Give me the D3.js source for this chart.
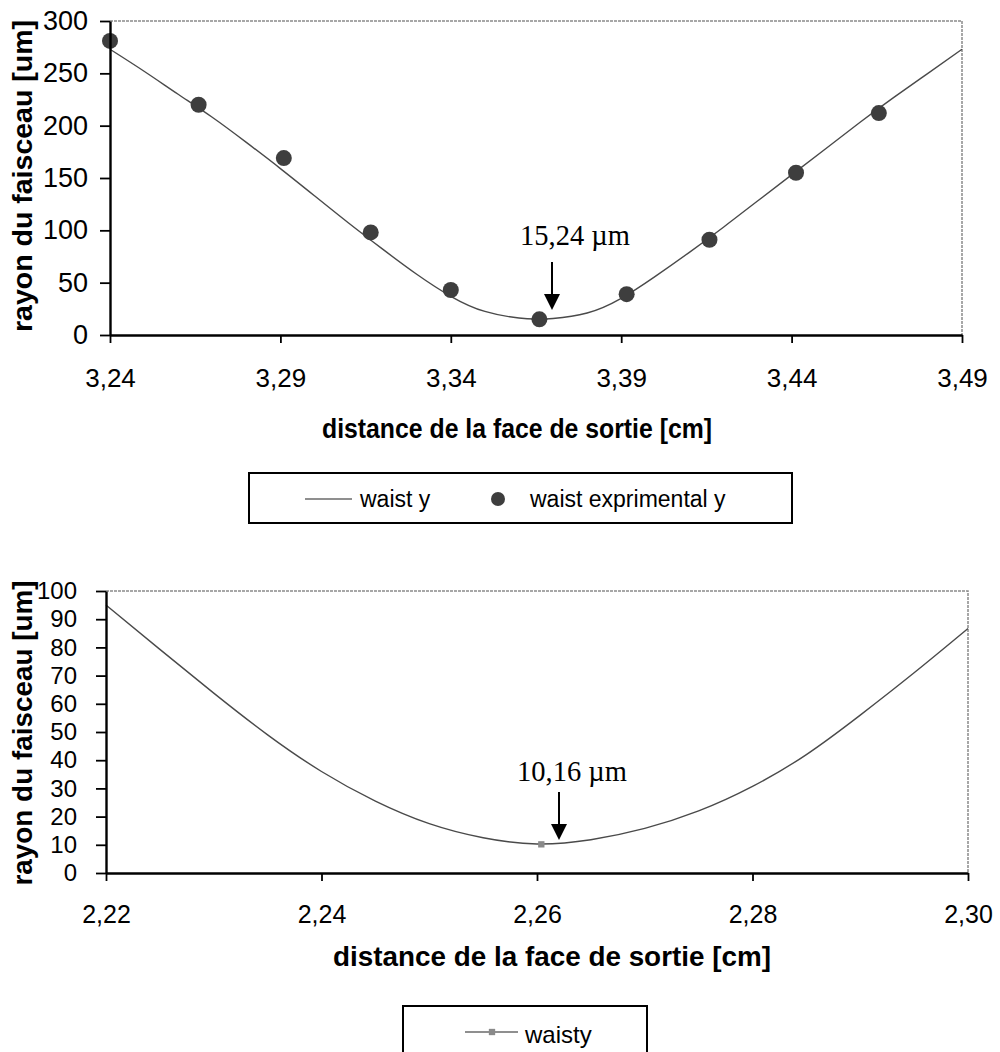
<!DOCTYPE html>
<html>
<head>
<meta charset="utf-8">
<script src="https://cdn.jsdelivr.net/npm/d3@7"></script>
<style>
body { margin: 0; background: #fff; }
</style>
</head>
<body>
<svg id="chart" width="1000" height="1052"></svg>
<script>
// top panel: fitted waist curve + measured points
var topCurveX = [3.24, 3.25, 3.26, 3.27, 3.28, 3.29, 3.30, 3.31, 3.32, 3.33, 3.34, 3.35, 3.36, 3.365,
    3.37, 3.38, 3.39, 3.40, 3.41, 3.42, 3.43, 3.44, 3.45, 3.46, 3.47, 3.48, 3.49];
var topCurveY = [273, 252, 230, 208, 184, 159, 133, 107, 82, 58, 37, 22.5, 16.2, 15.24,
    15.8, 21, 35, 56, 79, 103, 128, 153, 178, 203, 227, 250, 273];
var topPointsX = [3.240, 3.266, 3.291, 3.3165, 3.340, 3.366, 3.3916, 3.4159, 3.4413, 3.4656];
var topPointsY = [281, 220, 169, 98, 43, 15, 39, 91, 155, 212];
var topXTicks = [3.24, 3.29, 3.34, 3.39, 3.44, 3.49];
var topYTicks = [0, 50, 100, 150, 200, 250, 300];

// bottom panel: waist curve
var bottomCurveX = [2.220, 2.225, 2.230, 2.235, 2.240, 2.245, 2.250, 2.255, 2.260, 2.265,
    2.270, 2.275, 2.280, 2.285, 2.290, 2.295, 2.300];
var bottomCurveY = [95, 79.3, 63.8, 49, 36, 25.5, 17.5, 12.5, 10.3, 11.8,
    15.8, 22, 30.7, 42, 56, 71, 86.7];
var bottomPointX = [2.2604];
var bottomPointY = [10.16];
var bottomXTicks = [2.22, 2.24, 2.26, 2.28, 2.30];
var bottomYTicks = [0, 10, 20, 30, 40, 50, 60, 70, 80, 90, 100];

var xTitle = 'distance de la face de sortie [cm]';
var yTitle = 'rayon du faisceau [um]';

var SANS = '"Liberation Sans", Arial, sans-serif';
var SERIF = '"Liberation Serif", "Times New Roman", serif';

var fr = d3.formatLocale({decimal: ',', thousands: ' ', grouping: [3], currency: ['', '']});
var fmt2 = fr.format('.2f');

var svg = d3.select('#chart');
svg.append('rect').attr('width', 1000).attr('height', 1052).attr('fill', '#fff');

function drawPanel(o) {
    var x = d3.scaleLinear().domain(o.xDomain).range([o.left, o.right]);
    var y = d3.scaleLinear().domain(o.yDomain).range([o.bottom, o.top]);
    var g = svg.append('g');

    // plot area border, only top and right show as grey dotted line
    g.append('path')
        .attr('d', 'M' + o.left + ',' + o.top + 'H' + o.right + 'V' + o.bottom)
        .attr('fill', 'none').attr('stroke', '#8a8a8a').attr('stroke-width', 1.5)
        .attr('stroke-dasharray', '3,1');

    // curve
    var pts = o.curveX.map(function (v, i) { return [v, o.curveY[i]]; });
    g.append('path')
        .datum(pts)
        .attr('d', d3.line().x(function (d) { return x(d[0]); }).y(function (d) { return y(d[1]); })
            .curve(d3.curveNatural))
        .attr('fill', 'none').attr('stroke', '#4a4a4a').attr('stroke-width', 1.4);

    // markers
    var mp = o.pointsX.map(function (v, i) { return [v, o.pointsY[i]]; });
    if (o.bigDots) {
        g.selectAll('circle.pt').data(mp).enter().append('circle')
            .attr('class', 'pt')
            .attr('cx', function (d) { return x(d[0]); })
            .attr('cy', function (d) { return y(d[1]); })
            .attr('r', 8).attr('fill', '#3e3e3e');
    } else {
        g.selectAll('path.pt').data(mp).enter().append('path')
            .attr('class', 'pt')
            .attr('transform', function (d) { return 'translate(' + x(d[0]) + ',' + y(d[1]) + ')'; })
            .attr('d', d3.symbol().type(d3.symbolSquare).size(40))
            .attr('fill', '#8a8a8a');
    }

    // axes
    var xa = g.append('g').attr('transform', 'translate(0,' + o.bottom + ')')
        .call(d3.axisBottom(x).tickValues(o.xTicks).tickFormat(fmt2)
            .tickSize(8).tickSizeOuter(0).tickPadding(o.xPad));
    var ya = g.append('g').attr('transform', 'translate(' + o.left + ',0)')
        .call(d3.axisLeft(y).tickValues(o.yTicks).tickFormat(d3.format('d'))
            .tickSize(10).tickSizeOuter(0).tickPadding(o.yPad));
    [xa, ya].forEach(function (a) {
        a.select('.domain').attr('stroke', '#000').attr('stroke-width', 2.4);
        a.selectAll('.tick line').attr('stroke', '#000').attr('stroke-width', 1.8);
        a.selectAll('.tick text').attr('fill', '#000').style('font-family', SANS);
    });
    xa.selectAll('.tick text').style('font-size', o.xFont + 'px');
    ya.selectAll('.tick text').style('font-size', o.yFont + 'px');

    // axis titles
    g.append('text')
        .attr('x', o.xTitleX).attr('y', o.xTitleY)
        .attr('text-anchor', 'middle')
        .attr('textLength', o.xTitleLen).attr('lengthAdjust', 'spacingAndGlyphs')
        .style('font-family', SANS).style('font-weight', 'bold').style('font-size', '28px')
        .text(xTitle);
    g.append('text')
        .attr('transform', 'translate(' + o.yTitleX + ',' + o.yTitleY + ') rotate(-90)')
        .attr('text-anchor', 'middle')
        .attr('textLength', o.yTitleLen).attr('lengthAdjust', 'spacingAndGlyphs')
        .style('font-family', SANS).style('font-weight', 'bold').style('font-size', '28px')
        .text(yTitle);

    // annotation with arrow
    g.append('text')
        .attr('x', o.noteX).attr('y', o.noteY)
        .attr('text-anchor', 'middle')
        .style('font-family', SERIF).style('font-size', '28.5px')
        .text(o.note);
    g.append('line')
        .attr('x1', o.arrowX).attr('x2', o.arrowX)
        .attr('y1', o.arrowY1).attr('y2', o.arrowY2 - 14)
        .attr('stroke', '#000').attr('stroke-width', 2);
    g.append('path')
        .attr('d', 'M' + (o.arrowX - 8) + ',' + (o.arrowY2 - 16) + 'L' + (o.arrowX + 8) + ',' + (o.arrowY2 - 16) +
            'L' + o.arrowX + ',' + o.arrowY2 + 'Z')
        .attr('fill', '#000');
}

drawPanel({
    xDomain: [3.24, 3.49], yDomain: [0, 300],
    left: 110, right: 962, top: 21, bottom: 335,
    curveX: topCurveX, curveY: topCurveY,
    pointsX: topPointsX, pointsY: topPointsY, bigDots: true,
    xTicks: topXTicks, yTicks: topYTicks,
    xPad: 26, yPad: 12, xFont: 26, yFont: 27,
    xTitleX: 517, xTitleY: 438, xTitleLen: 390,
    yTitleX: 32, yTitleY: 176, yTitleLen: 312,
    note: '15,24 \u00b5m', noteX: 575, noteY: 245,
    arrowX: 552, arrowY1: 262, arrowY2: 310
});

drawPanel({
    xDomain: [2.22, 2.30], yDomain: [0, 100],
    left: 106, right: 968, top: 591, bottom: 873,
    curveX: bottomCurveX, curveY: bottomCurveY,
    pointsX: bottomPointX, pointsY: bottomPointY, bigDots: false,
    xTicks: bottomXTicks, yTicks: bottomYTicks,
    xPad: 24, yPad: 19, xFont: 25, yFont: 24,
    xTitleX: 552, xTitleY: 966, xTitleLen: 438,
    yTitleX: 32, yTitleY: 733, yTitleLen: 305,
    note: '10,16 \u00b5m', noteX: 572, noteY: 781,
    arrowX: 559, arrowY1: 792, arrowY2: 840
});

// legends
var lg1 = svg.append('g');
lg1.append('rect').attr('x', 249).attr('y', 473).attr('width', 543).attr('height', 50)
    .attr('fill', '#fff').attr('stroke', '#000').attr('stroke-width', 2);
lg1.append('line').attr('x1', 305).attr('x2', 352).attr('y1', 499).attr('y2', 499)
    .attr('stroke', '#6a6a6a').attr('stroke-width', 1.4);
lg1.append('text').attr('x', 360).attr('y', 507)
    .style('font-family', SANS).style('font-size', '23px').text('waist y');
lg1.append('circle').attr('cx', 498).attr('cy', 499).attr('r', 7).attr('fill', '#3e3e3e');
lg1.append('text').attr('x', 530).attr('y', 507)
    .style('font-family', SANS).style('font-size', '23px').text('waist exprimental y');

var lg2 = svg.append('g');
lg2.append('rect').attr('x', 403).attr('y', 1006).attr('width', 244).attr('height', 70)
    .attr('fill', '#fff').attr('stroke', '#000').attr('stroke-width', 2);
lg2.append('line').attr('x1', 465).attr('x2', 518).attr('y1', 1032).attr('y2', 1032)
    .attr('stroke', '#6a6a6a').attr('stroke-width', 1.4);
lg2.append('path').attr('transform', 'translate(492,1032)')
    .attr('d', d3.symbol().type(d3.symbolSquare).size(40)).attr('fill', '#8a8a8a');
lg2.append('text').attr('x', 525).attr('y', 1043)
    .style('font-family', SANS).style('font-size', '24px').text('waisty');
</script>
</body>
</html>
